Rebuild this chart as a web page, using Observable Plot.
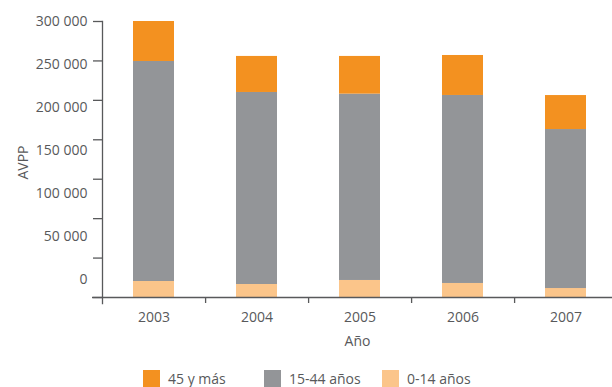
<!DOCTYPE html>
<html><head><meta charset="utf-8">
<script src="https://cdn.jsdelivr.net/npm/d3@7"></script>
<script src="https://cdn.jsdelivr.net/npm/@observablehq/plot@0.6"></script>
<style>
body{margin:0;background:#fff;font-family:"Open Sans",sans-serif;color:#58595b}
#chart{position:relative;width:612px;height:387px;overflow:hidden}
.legend{position:absolute;top:370px;left:0;width:612px;height:17px}
.item{position:absolute;top:0;display:flex;align-items:center;font-size:14px;line-height:15px;height:17px;white-space:nowrap;color:#58595b}
.sw{width:17px;height:17px;margin-right:8px;flex:none}
</style></head><body><div id="chart"></div>
<script>
const years = ["2003","2004","2005","2006","2007"];
const series = ["45 y más","15-44 años","0-14 años"];
const colors = ["#f39120","#939598","#fbc58a"];
const v45   = [50700,45700,47800,50700,43100];
const v1544 = [279000,243500,236300,238400,201600];
const v014  = [20300,16500,21600,17800,11400];
const yTicks  = [0,50000,100000,150000,200000,250000,300000,350000];
const yLabels = [0,50000,100000,150000,200000,250000,300000];
const legendLeft = [143,264,382];

const data = [];
years.forEach((y,i)=>{
  data.push({year:y, serie:series[2], value:v014[i]});
  data.push({year:y, serie:series[1], value:v1544[i]});
  data.push({year:y, serie:series[0], value:v45[i]});
});
const fmt = v => d3.format(",")(v).replace(/,/g," ");
// the original's labels are spaced slightly wider than its tick marks
const k = 1.0905;
const labelPos = v => 350000 - (300000 - v)*k;
const labelVal = p => Math.round(((p - 350000)/k + 300000)/50000)*50000;
const ink = "#58595b";

const chart = Plot.plot({
  width: 612, height: 362,
  marginLeft: 102, marginRight: 0, marginTop: 21, marginBottom: 59,
  style: {fontFamily: '"Open Sans", sans-serif', fontSize: "14px", color: ink, background: "#fff"},
  x: {domain: years, range: [102, 618], paddingInner: 0.6, paddingOuter: 0.3},
  y: {domain: [-7600, 350000]},
  color: {domain: series, range: colors},
  marks: [
    Plot.barY(data, {x: "year", y: "value", fill: "serie", order: ["0-14 años","15-44 años","45 y más"]}),
    Plot.frame({anchor: "left", stroke: ink, strokeWidth: 1.3}),
    Plot.ruleY([0], {stroke: ink, strokeWidth: 1.3, insetLeft: -10}),
    Plot.ruleX(years.slice(0,-1), {x: d=>d, y1: 0, y2: -7600, dx: 51.6, stroke: ink, strokeWidth: 1.3}),
    Plot.axisY({ticks: yTicks, tickSize: 9, tickFormat: () => "", stroke: ink, strokeWidth: 1.3, label: null}),
    Plot.axisY({ticks: yLabels.map(labelPos), tickSize: 0, tickPadding: 15, tickFormat: d => fmt(labelVal(d)),
      fill: ink, label: "AVPP", labelAnchor: "center", labelArrow: false, labelOffset: 84}),
    Plot.axisX({tickSize: 0, tickPadding: 9, fill: ink, label: "Año", labelAnchor: "center", labelArrow: false, labelOffset: 42})
  ]
});
const root = document.getElementById("chart");
root.appendChild(chart);
const leg = document.createElement("div");
leg.className = "legend";
series.forEach((s,i)=>{
  const it = document.createElement("div");
  it.className = "item";
  it.style.left = legendLeft[i] + "px";
  it.innerHTML = `<span class="sw" style="background:${colors[i]}"></span><span>${s}</span>`;
  leg.appendChild(it);
});
root.appendChild(leg);
</script></body></html>
